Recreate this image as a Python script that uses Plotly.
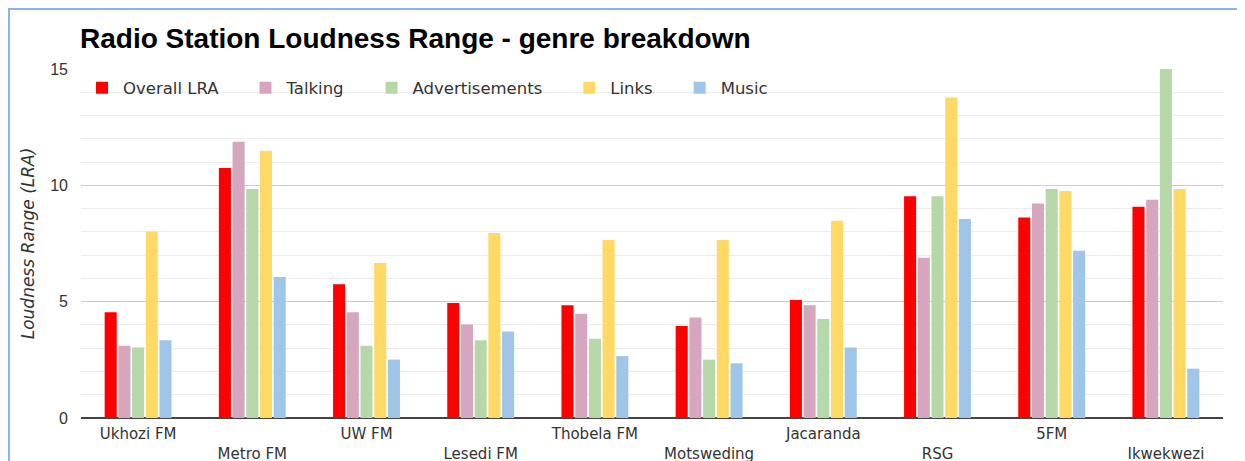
"""Radio station loudness range, split by programme genre."""

import plotly.graph_objects as go

stations = ["Ukhozi FM", "Metro FM", "UW FM", "Lesedi FM", "Thobela FM",
            "Motsweding", "Jacaranda", "RSG", "5FM", "Ikwekwezi"]

overall_lra = [4.55, 10.75, 5.75, 4.94, 4.85, 3.95, 5.07, 9.53, 8.62, 9.08]
talking = [3.11, 11.87, 4.55, 4.02, 4.48, 4.32, 4.85, 6.89, 9.22, 9.38]
advertisements = [3.03, 9.84, 3.11, 3.34, 3.41, 2.51, 4.25, 9.53, 9.84, 15.0]
links = [8.02, 11.49, 6.66, 7.95, 7.65, 7.65, 8.48, 13.77, 9.76, 9.84]
music = [3.34, 6.06, 2.51, 3.72, 2.66, 2.35, 3.03, 8.55, 7.19, 2.12]

series = [
    ("Overall LRA", overall_lra, "#ff0000"),
    ("Talking", talking, "#d5a6bd"),
    ("Advertisements", advertisements, "#b6d7a8"),
    ("Links", links, "#ffd966"),
    ("Music", music, "#9fc5e8"),
]

# Every second station label drops to a second line, as in the original
tick_text = [s if i % 2 == 0 else "<br>" + s for i, s in enumerate(stations)]

W, H = 1237, 453          # page body adds an 8px margin round the figure
L, R, T, B = 73, 22, 61, 43
plot_w, plot_h = W - L - R, H - T - B

# plotly's legend packs entries tightly; pad names to space them like the original
PAD = "\u00a0" * 4

fig = go.Figure()
for name, values, colour in series:
    fig.add_trace(go.Bar(
        x=stations, y=values, name=name + PAD,
        marker=dict(color=colour, line=dict(width=0)),
    ))

# light blue frame round the chart card (figure edge, open to right/bottom)
fig.add_shape(
    type="rect", xref="paper", yref="paper",
    x0=(1 - L) / plot_w, x1=1.05, y0=-0.3, y1=(plot_h + T - 1) / plot_h,
    line=dict(color="#8db3df", width=2), layer="below",
)

fig.update_layout(
    width=W, height=H,
    margin=dict(l=L, r=R, t=T, b=B, autoexpand=False),
    paper_bgcolor="white", plot_bgcolor="white",
    barmode="group", bargap=0.4, bargroupgap=0.12,
    title=dict(
        text="<b>Radio Station Loudness Range - genre breakdown</b>",
        x=72 / W, xanchor="left", xref="container",
        y=1 - 30.5 / H, yanchor="middle",
        font=dict(family="Liberation Sans, Arial", size=28, color="#000000"),
    ),
    legend=dict(
        orientation="h", x=0, xanchor="left", y=0.9456, yanchor="middle",
        bgcolor="rgba(0,0,0,0)", itemwidth=32,
        font=dict(family="DejaVu Sans", size=16.5, color="#333333"),
    ),
    xaxis=dict(
        tickmode="array", tickvals=stations, ticktext=tick_text,
        tickfont=dict(family="DejaVu Sans", size=15, color="#333333"),
        showgrid=False, ticks="", ticklabelstandoff=5, automargin=False,
    ),
    yaxis=dict(
        range=[0, 15], dtick=5, tick0=0,
        gridcolor="#cccccc", gridwidth=1,
        minor=dict(dtick=1, showgrid=True, gridcolor="#ececec", gridwidth=1),
        zeroline=True, zerolinecolor="#444444", zerolinewidth=2,
        tickfont=dict(family="Liberation Sans, Arial", size=16, color="#333333"),
        ticks="", ticklabelstandoff=12, automargin=False,
        title=dict(
            text="<i>Loudness Range (LRA)</i>", standoff=11,
            font=dict(family="DejaVu Sans", size=17, color="#333333"),
        ),
    ),
)

fig.write_html("out.html")
